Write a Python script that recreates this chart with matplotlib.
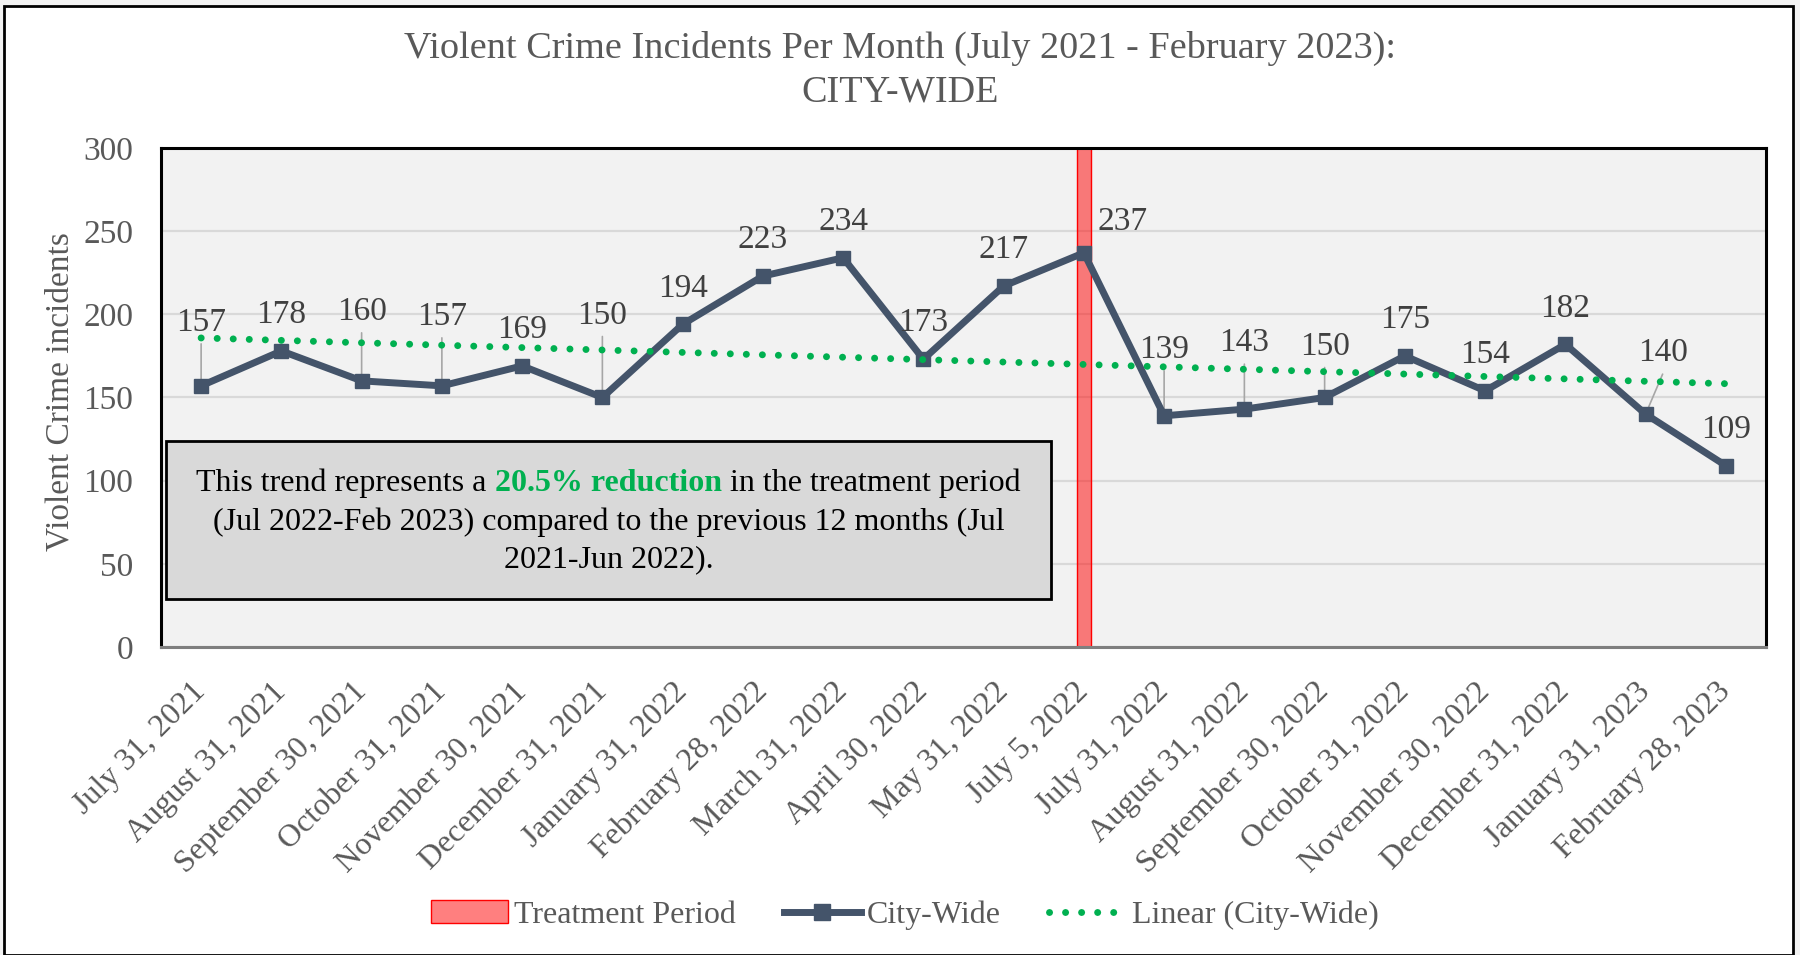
import matplotlib
matplotlib.use("Agg")
import matplotlib.pyplot as plt
import numpy as np
from matplotlib.patches import Rectangle, Patch
from matplotlib.lines import Line2D

plt.rcParams["font.family"] = ["Liberation Serif", "DejaVu Serif"]

# ---- data ----
months = ["July 31, 2021", "August 31, 2021", "September 30, 2021", "October 31, 2021",
          "November 30, 2021", "December 31, 2021", "January 31, 2022", "February 28, 2022",
          "March 31, 2022", "April 30, 2022", "May 31, 2022", "July 5, 2022",
          "July 31, 2022", "August 31, 2022", "September 30, 2022", "October 31, 2022",
          "November 30, 2022", "December 31, 2022", "January 31, 2023", "February 28, 2023"]
incidents = [157, 178, 160, 157, 169, 150, 194, 223, 234, 173, 217, 237,
             139, 143, 150, 175, 154, 182, 140, 109]
treatment_month = "July 5, 2022"
treatment_height = 300

# label placement (px offsets from the point), leader line flags
label_dx = {11: 39, 18: 17}
label_dy = {0: -63, 2: -69, 3: -69, 5: -82, 11: -31, 12: -66, 13: -66, 14: -51, 18: -61}
leaders = [0, 2, 3, 5, 12, 13, 14, 18]

NAVY = "#44546A"
GREEN = "#00B050"
GRAY_TXT = "#595959"
LBL_TXT = "#404040"
PX = 0.72  # points per pixel at dpi 100
TREND_LS = (0, (0.01, 2.3))

fig = plt.figure(figsize=(18, 9.55), dpi=100)
fig.patch.set_facecolor("#F2F2F2")
fig.patches.append(Rectangle((4 / 1800, 0.0), 1789 / 1800, 949 / 955, transform=fig.transFigure,
                             facecolor="white", edgecolor="black", lw=2, zorder=-10))

ax = fig.add_axes([161 / 1800, 1 - 647 / 955, 1605 / 1800, 499 / 955])
ax.set_facecolor("#F2F2F2")
x = np.arange(len(months))

ax.set_xlim(-0.5, len(months) - 0.5)
ax.set_ylim(0, 300)
ax.set_yticks(np.arange(0, 301, 50))
ax.grid(axis="y", color="#D9D9D9", lw=1.6, zorder=0)
ax.set_axisbelow(True)
for s in ax.spines.values():
    s.set_color("black")
    s.set_linewidth(2.2)
ax.spines["bottom"].set_color("#7F7F7F")

ax.tick_params(axis="y", length=0, pad=20, labelsize=24, labelcolor=GRAY_TXT)
ax.tick_params(axis="x", length=0, pad=29, labelsize=23, labelcolor=GRAY_TXT)
ax.set_xticks(x)
ax.set_xticklabels(months, rotation=45, ha="right", va="center", rotation_mode="anchor")

# treatment bar
ti = months.index(treatment_month)
ax.bar(ti, treatment_height, width=0.17, facecolor=(1, 0, 0, 0.5), edgecolor="red", lw=1, zorder=2)

# series
ax.plot(x, incidents, color=NAVY, lw=5, marker="s", ms=10, zorder=4)

# linear trend (least squares fit of the series)
coef = np.polyfit(x, incidents, 1)
ax.plot(x, np.polyval(coef, x), color=GREEN, lw=5, linestyle=TREND_LS,
        dash_capstyle="round", zorder=5)

# data labels + leader lines
for i, v in enumerate(incidents):
    dx = label_dx.get(i, 0)
    dy = label_dy.get(i, -36)
    if i in leaders:
        ax.annotate("", xy=(i, v), xytext=(dx * PX, -(dy + 21) * PX), textcoords="offset points",
                    arrowprops=dict(arrowstyle="-", color="#A6A6A6", lw=1.2, shrinkA=0, shrinkB=0),
                    zorder=3)
    ax.annotate(str(v), xy=(i, v), xytext=(dx * PX, -dy * PX), textcoords="offset points",
                ha="center", va="center", fontsize=24, color=LBL_TXT, zorder=6)

# annotation box
ax.add_patch(Rectangle((5 / 1605, 48 / 499), 885 / 1605, 158 / 499, transform=ax.transAxes,
                       facecolor="#D9D9D9", edgecolor="black", lw=2, zorder=7))
fig.canvas.draw()
rend = fig.canvas.get_renderer()
box_cx = (5 + 885 / 2) / 1605
fs_box = 23


def _w(s, weight="normal"):
    t = ax.text(0, 0, s, fontsize=fs_box, fontweight=weight)
    w = t.get_window_extent(rend).width
    t.remove()
    return w


space = _w("x x") - _w("xx")
parts = [("This trend represents a", "black", "normal"),
         ("20.5% reduction", GREEN, "bold"),
         ("in the treatment period", "black", "normal")]
widths = [_w(p, wt) for p, _, wt in parts]
total = sum(widths) + space * (len(parts) - 1)
ax_w = 1605
xs = box_cx * ax_w - total / 2
y1 = (647 - 483) / 499
for (p, c, wt), w in zip(parts, widths):
    ax.text(xs / ax_w, y1, p, transform=ax.transAxes, ha="left", va="center",
            fontsize=fs_box, color=c, fontweight=wt, zorder=8)
    xs += w + space
ax.text(box_cx, (647 - 522) / 499, "(Jul 2022-Feb 2023) compared to the previous 12 months (Jul",
        transform=ax.transAxes, ha="center", va="center", fontsize=fs_box, color="black", zorder=8)
ax.text(box_cx, (647 - 560) / 499, "2021-Jun 2022).",
        transform=ax.transAxes, ha="center", va="center", fontsize=fs_box, color="black", zorder=8)

# titles
fig.text(0.5, 1 - 48 / 955, "Violent Crime Incidents Per Month (July 2021 - February 2023):",
         ha="center", va="center", fontsize=27.5, color=GRAY_TXT)
fig.text(0.5, 1 - 92 / 955, "CITY-WIDE", ha="center", va="center", fontsize=27.5, color=GRAY_TXT)
fig.text(60 / 1800, 1 - 392 / 955, "Violent Crime incidents", rotation=90, ha="center", va="center",
         fontsize=24, color=GRAY_TXT)

# legend
handles = [Patch(facecolor=(1, 0, 0, 0.5), edgecolor="red", lw=1),
           Line2D([], [], color=NAVY, lw=5, marker="s", ms=12),
           Line2D([], [], color=GREEN, lw=5, linestyle=TREND_LS, dash_capstyle="round")]
fig.legend(handles, ["Treatment Period", "City-Wide", "Linear (City-Wide)"], loc="center",
           bbox_to_anchor=(905 / 1800, 1 - 915 / 955), ncol=3, frameon=False, fontsize=23,
           labelcolor=GRAY_TXT, handlelength=2.4, handletextpad=0.2, columnspacing=1.5)

fig.savefig("out.png", dpi=100)
